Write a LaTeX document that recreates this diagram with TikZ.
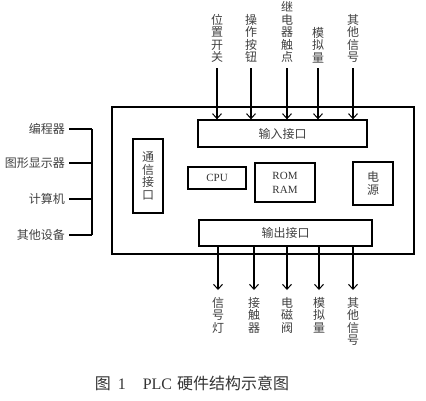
\documentclass[tikz,border=0pt]{standalone}
\usepackage{fontspec}
\setmainfont{Liberation Serif}
\newfontfamily\cjk{Noto Sans CJK SC}
\usetikzlibrary{arrows.meta}

\begin{document}
\begin{tikzpicture}[x=1pt,y=-1pt,
  box/.style={draw,line width=1.3pt,inner sep=0pt},
  lab/.style={font=\cjk\fontsize{12}{12.5}\selectfont,text=black!75,align=center,inner sep=0pt},
  sig/.style={line width=1.5pt,-{Straight Barb[length=5pt,width=9pt,line width=1pt]}}]
\useasboundingbox (0,0) rectangle (426,400);
% main unit
\node[box,minimum width=302pt,minimum height=147pt] (plc) at (263,180.5) {};
\node[box,lab,minimum width=169pt,minimum height=27pt] (in) at (282.5,133.5) {输入接口};
\node[box,lab,minimum width=173pt,minimum height=26pt] (out) at (285.5,233) {输出接口};
\node[box,lab,minimum width=30pt,minimum height=74pt] (com) at (148,176) {通\\信\\接\\口};
\node[box,minimum width=58pt,minimum height=22pt,font=\fontsize{11}{12}\selectfont,text=black!80] (cpu) at (217,178) {CPU};
\node[box,minimum width=60pt,minimum height=39pt,align=center,font=\fontsize{11}{14}\selectfont,text=black!80] (mem) at (285,182.5) {ROM\\RAM};
\node[box,lab,minimum width=40pt,minimum height=43pt] (pwr) at (373,183.5) {电\\源};
% inputs
\foreach \x/\t/\n in {217/位\\置\\开\\关/i1, 251/操\\作\\按\\钮/i2, 287/继\\电\\器\\触\\点/i3,
                      318/模\\拟\\量/i4, 353/其\\他\\信\\号/i5}{
  \node[lab,anchor=south] (\n) at (\x,63) {\t};
  \draw[sig] ([yshift=-5pt]\n.south) -- (\n |- in.north);
}
% outputs
\foreach \x/\t/\n in {218/信\\号\\灯/o1, 254/接\\触\\器/o2, 287/电\\磁\\阀/o3,
                      319/模\\拟\\量/o4, 353/其\\他\\信\\号/o5}{
  \node[lab,anchor=north] (\n) at (\x,297) {\t};
  \draw[sig] (\n |- out.south) -- ([yshift=7pt]\n.north);
}
% peripherals
\foreach \y/\t/\n in {129/编程器/p1, 163/图形显示器/p2, 199/计算机/p3, 235/其他设备/p4}{
  \node[lab,anchor=east] (\n) at (65,\y) {\t};
  \coordinate (b\n) at (92,\y);
  \draw[line width=1.3pt] ([xshift=4pt]\n.east) -- (b\n);
}
\draw[line width=1.3pt] (bp1) -- (bp4);
% caption
\node[font=\fontsize{16}{16}\selectfont,text=black!80,inner sep=0pt] (cap) at (192,383)
  {{\cjk 图}\hspace{7pt}1\hspace{17pt}PLC\hspace{5pt}{\cjk 硬件结构示意图}};
\end{tikzpicture}
\end{document}
